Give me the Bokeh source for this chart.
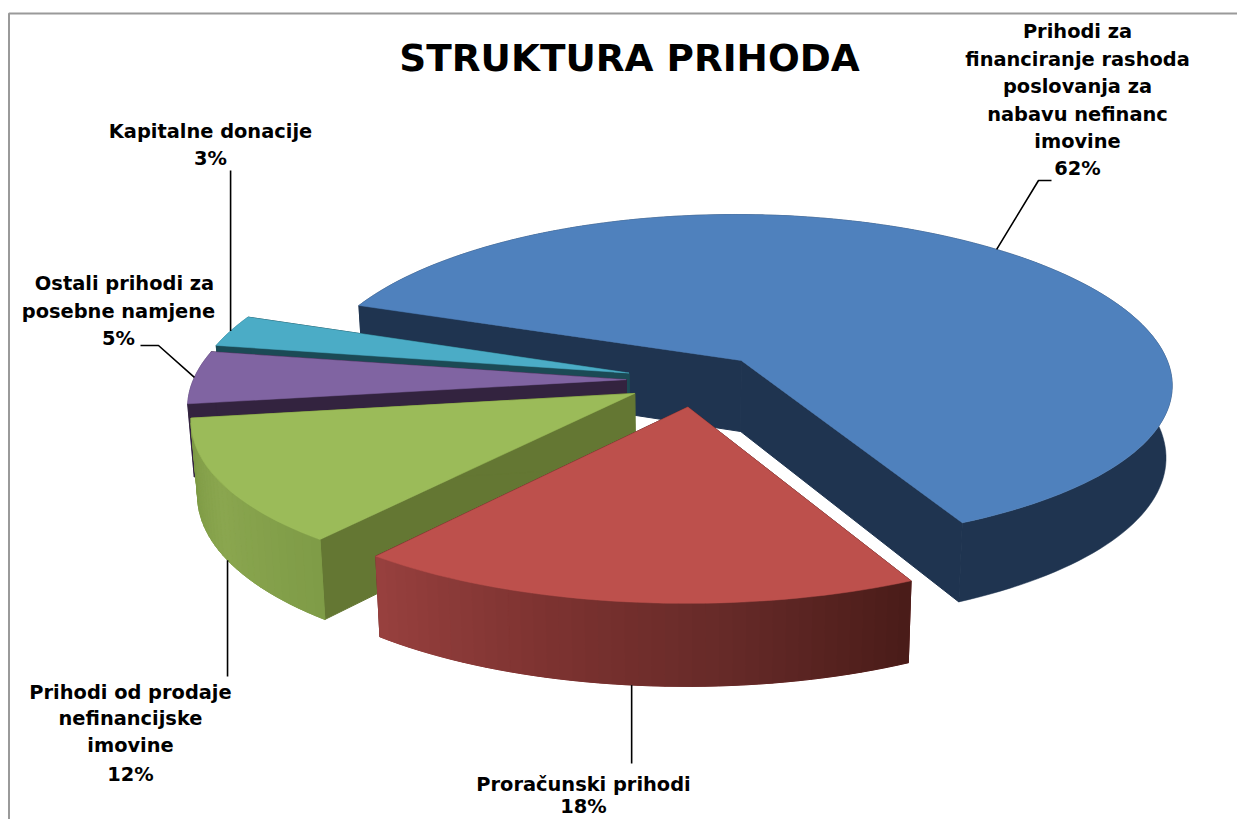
import math
from bokeh.plotting import figure
from bokeh.embed import file_html
from bokeh.resources import INLINE
from bokeh.core.properties import value

# ---- data ----
categories = ["Prihodi za financiranje rashoda poslovanja za nabavu nefinanc imovine",
              "Proračunski prihodi", "Prihodi od prodaje nefinancijske imovine",
              "Ostali prihodi za posebne namjene", "Kapitalne donacije"]
shares = [62, 18, 12, 5, 3]
title_text = "STRUKTURA PRIHODA"

# ---- style ----
top_colors = ["#4f81bd", "#bd504c", "#9bbb59", "#8064a2", "#4bacc6"]
wall_colors = ["#1f3450", "#5a2422", "#647733", "#33233f", "#1b4a55"]
# outer side shading, left to right on screen
side_stops = [["#1f3450", "#1f3450"],
              ["#97403e", "#7e3331", "#662a28", "#4a1c19"],
              ["#7d9a45", "#8aa64f", "#7f9c47"],
              ["#4b3b62", "#4b3b62"],
              ["#2a6a7a", "#2a6a7a"]]
draw_order = [0, 4, 3, 2, 1]
START = 159.4
CX, CY, RX, A, KX, KY, E, DEPTH, SHRINK = 695.0, 379.5, 433.0, 167.0, 0.14, 0.115, 0.16, 72.0, 0.987
FONT = "DejaVu Sans"


def project(X, Y, low=False):
    x = CX + RX * X / (1 + KX * Y)
    w = 1 + KY * Y
    y = CY - A * Y / w
    if low:
        x = CX + (x - CX) * SHRINK
        y += DEPTH / w
    return x, y


def mix(stops, t):
    t = max(0.0, min(1.0, t)) * (len(stops) - 1)
    i = min(int(t), len(stops) - 2)
    f = t - i
    a = [int(stops[i][j:j + 2], 16) for j in (1, 3, 5)]
    b = [int(stops[i + 1][j:j + 2], 16) for j in (1, 3, 5)]
    return "#%02x%02x%02x" % tuple(round(p + (q - p) * f) for p, q in zip(a, b))


bounds = []
ang = START
for s in shares:
    bounds.append((ang, ang - s / 100 * 360))
    ang -= s / 100 * 360


def mid_angle(i):
    return sum(bounds[i]) / 2


def offset(i):
    mid = math.radians(mid_angle(i))
    return E * math.cos(mid), E * math.sin(mid)


def rim(i, deg, low=False):
    ox, oy = offset(i)
    t = math.radians(deg)
    return project(ox + math.cos(t), oy + math.sin(t), low)


def apex(i, low=False):
    ox, oy = offset(i)
    return project(ox, oy, low)


def poly(pts, color, lw=0.5):
    p.patch([q[0] for q in pts], [q[1] for q in pts], fill_color=color, line_color=color, line_width=lw)


p = figure(width=1237, height=819, x_range=(0, 1237), y_range=(819, 0),
           toolbar_location=None, output_backend="svg", min_border=0)
p.axis.visible = False
p.grid.visible = False
p.outline_line_color = None
p.background_fill_color = "white"

# frame of the picture
p.line([8.5, 8.5, 1237], [819, 13, 13], line_color="#9a9a9a", line_width=2)


def draw_walls(i):
    for d in bounds[i]:
        poly([apex(i), rim(i, d), rim(i, d, True), apex(i, True)], wall_colors[i], 1.0)


def draw_side(i, degs):
    # one piece, then shaded strips where the side has a gradient
    poly([rim(i, d) for d in degs] + [rim(i, d, True) for d in reversed(degs)], side_stops[i][0])
    if side_stops[i][0] != side_stops[i][-1]:
        m = len(degs) - 1
        for j in range(m):
            c = mix(side_stops[i], 1 - j / (m - 1))
            poly([rim(i, degs[j]), rim(i, degs[j + 1]), rim(i, degs[j + 1], True), rim(i, degs[j], True)], c, 1.0)


for i in draw_order:
    a0, a1 = bounds[i]
    n = max(6, int(abs(a1 - a0) / 1.5))
    degs = [a0 + (a1 - a0) * j / n for j in range(n + 1)]
    if math.sin(math.radians(mid_angle(i))) > -0.1:
        # the rim turns away from the viewer: the radial wall is in front of it
        draw_side(i, degs)
        draw_walls(i)
    else:
        draw_walls(i)
        draw_side(i, degs)
    poly([apex(i)] + [rim(i, d) for d in degs], top_colors[i])


def leader(xs, ys):
    p.line(xs, ys, line_color="black", line_width=1.6)


a = rim(0, mid_angle(0))
leader([1051, 1038, a[0]], [180, 180, a[1]])
a = rim(1, mid_angle(1), True)
leader([a[0], a[0]], [763, a[1]])
a = rim(2, mid_angle(2), True)
leader([a[0], a[0]], [676, a[1]])
a = rim(3, mid_angle(3))
leader([140, 158, a[0]], [345, 345, a[1]])
a = rim(4, mid_angle(4))
leader([a[0], a[0]], [170, a[1]])


def label(lines, x, ys, size=19.4):
    p.text([x] * len(lines), ys, text=lines, text_align="center", text_baseline="middle",
           text_font=value(FONT), text_font_style="bold", text_font_size=f"{size}px", text_color="#000000")


label([title_text], 629, [57], 37.4)
label(["Prihodi za", "financiranje rashoda", "poslovanja za", "nabavu nefinanc", "imovine", f"{shares[0]}%"],
      1077, [31, 59, 86, 114, 141, 168])
label(["Kapitalne donacije", f"{shares[4]}%"], 210, [131, 158])
label(["Ostali prihodi za"], 124, [283])
label(["posebne namjene"], 118, [311])
label([f"{shares[3]}%"], 118, [338])
label(["Prihodi od prodaje", "nefinancijske", "imovine", f"{shares[2]}%"], 130, [692, 718, 745, 774])
label(["Proračunski prihodi", f"{shares[1]}%"], 583, [784, 806])

open("out.html", "w").write(file_html(p, INLINE))
